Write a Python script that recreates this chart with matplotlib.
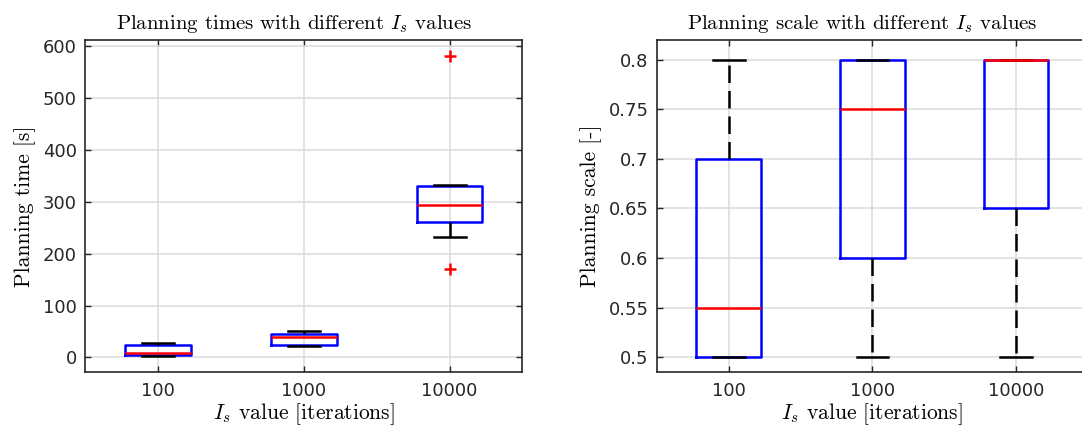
import matplotlib
matplotlib.use("Agg")
import matplotlib.pyplot as plt

plt.rcParams['mathtext.fontset'] = 'cm'
plt.rcParams['font.family'] = ['DejaVu Sans']

# data
labels = ["100", "1000", "10000"]

time_lo = [3, 22, 233]
time_q1 = [5, 24, 261]
time_med = [9, 39, 294]
time_q3 = [24, 45, 331]
time_hi = [27, 51, 332]
time_out = [[], [], [582, 171]]

scale_lo = [0.5, 0.5, 0.5]
scale_q1 = [0.5, 0.6, 0.65]
scale_med = [0.55, 0.75, 0.8]
scale_q3 = [0.7, 0.8, 0.8]
scale_hi = [0.8, 0.8, 0.8]


def stats(lo, q1, med, q3, hi, out=None):
    res = []
    for i in range(len(lo)):
        res.append({"whislo": lo[i], "q1": q1[i], "med": med[i], "q3": q3[i],
                    "whishi": hi[i], "fliers": out[i] if out else []})
    return res


def draw(ax, st, ylim, yticks, ytl, ttl, ylab):
    ax.grid(True, color=(0.86, 0.86, 0.86), linewidth=1.1, zorder=0)
    ax.set_axisbelow(True)
    ax.bxp(st, positions=[1, 2, 3], widths=0.45, capwidths=0.22,
           boxprops=dict(color="blue", linewidth=1.8),
           medianprops=dict(color="red", linewidth=1.8),
           whiskerprops=dict(color="black", linewidth=1.8, linestyle=(0, (7, 3.2))),
           capprops=dict(color="black", linewidth=1.8),
           flierprops=dict(marker="+", markeredgecolor="red", markersize=9,
                           markeredgewidth=1.8, linestyle="none"))
    ax.set_xlim(0.5, 3.5)
    ax.set_ylim(*ylim)
    ax.set_xticks([1, 2, 3])
    ax.set_xticklabels(labels)
    ax.set_yticks(yticks)
    ax.set_yticklabels(ytl)
    ax.tick_params(direction="in", top=True, right=True, length=4, width=1.0,
                   labelsize=13, colors=(0.15, 0.15, 0.15))
    ax.tick_params(axis="y", pad=6)
    ax.tick_params(axis="x", pad=7)
    for sp in ax.spines.values():
        sp.set_color((0.15, 0.15, 0.15))
        sp.set_linewidth(1.2)
    ax.set_title(ttl, fontsize=15, pad=8, family="cmr10", x=0.477)
    ax.set_xlabel(r"$I_s$ value [iterations]", fontsize=15.5, labelpad=1,
                  family="cmr10")
    ax.set_ylabel(ylab, fontsize=15.5, labelpad=5, family="cmr10")


fig = plt.figure(figsize=(10.82, 4.29), dpi=100)
ax1 = fig.add_axes([0.0786, 0.1329, 0.4043, 0.774])
ax2 = fig.add_axes([0.6072, 0.1329, 0.398, 0.774])

draw(ax1, stats(time_lo, time_q1, time_med, time_q3, time_hi, time_out),
     (-28, 612), [0, 100, 200, 300, 400, 500, 600],
     ["0", "100", "200", "300", "400", "500", "600"],
     r"Planning times with different $I_s$ values",
     "Planning time [s]")

draw(ax2, stats(scale_lo, scale_q1, scale_med, scale_q3, scale_hi),
     (0.485, 0.82), [0.5, 0.55, 0.6, 0.65, 0.7, 0.75, 0.8],
     ["0.5", "0.55", "0.6", "0.65", "0.7", "0.75", "0.8"],
     r"Planning scale with different $I_s$ values",
     "Planning scale [-]")

fig.savefig("out.png", dpi=100)
